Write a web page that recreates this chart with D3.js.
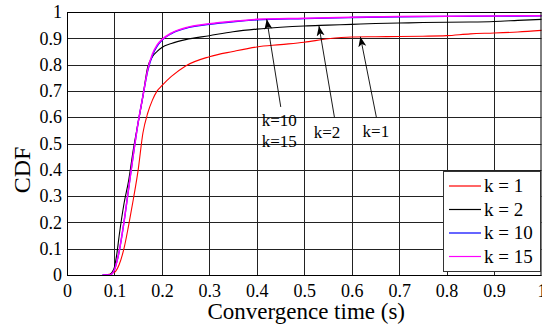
<!DOCTYPE html>
<html><head><meta charset="utf-8">
<script src="https://cdn.jsdelivr.net/npm/d3@7"></script>
<style>
body{margin:0;background:#fff;}
svg{display:block;font-family:"Liberation Serif","Times New Roman",serif;}
</style></head>
<body><svg id="c" width="542" height="329"></svg>
<script>
const xTicks = [0,0.1,0.2,0.3,0.4,0.5,0.6,0.7,0.8,0.9,1];
const yTicks = [0,0.1,0.2,0.3,0.4,0.5,0.6,0.7,0.8,0.9,1];
const seriesNames = ["k = 1","k = 2","k = 10","k = 15"];
const seriesColors = ["#ff0000","#000000","#0000ff","#ff00ff"];
const xK1  = [0.08,0.1,0.11,0.12,0.13,0.14,0.15,0.16,0.17,0.18,0.19,0.2,0.22,0.25,0.3,0.35,0.4,0.45,0.5,0.55,0.6,0.65,0.7,0.75,0.8,0.85,0.9,0.95,1.0];
const yK1  = [0,0.01,0.04,0.1,0.19,0.29,0.4,0.54,0.615,0.665,0.7,0.72,0.755,0.795,0.83,0.85,0.867,0.876,0.885,0.898,0.905,0.906,0.907,0.908,0.91,0.917,0.92,0.924,0.93];
const xK2  = [0.075,0.088,0.095,0.1,0.105,0.11,0.12,0.13,0.14,0.15,0.16,0.17,0.18,0.19,0.2,0.22,0.25,0.3,0.35,0.4,0.45,0.5,0.55,0.6,0.65,0.7,0.75,0.8,0.85,0.9,0.95,1.0];
const yK2  = [0,0,0.01,0.03,0.08,0.15,0.27,0.36,0.48,0.58,0.68,0.79,0.83,0.85,0.865,0.88,0.895,0.91,0.925,0.935,0.942,0.947,0.95,0.953,0.956,0.958,0.96,0.961,0.962,0.964,0.968,0.972];
const xK10 = [0.075,0.09,0.1,0.105,0.11,0.12,0.13,0.14,0.15,0.16,0.17,0.18,0.19,0.2,0.22,0.25,0.3,0.35,0.4,0.5,0.6,0.7,0.8,0.9,1.0];
const yK10 = [0,0,0.02,0.05,0.09,0.2,0.33,0.46,0.58,0.68,0.775,0.835,0.87,0.892,0.918,0.938,0.953,0.963,0.97,0.975,0.979,0.982,0.983,0.984,0.985];
const xK15 = [0.075,0.09,0.1,0.105,0.11,0.12,0.13,0.14,0.15,0.16,0.17,0.18,0.19,0.2,0.22,0.25,0.3,0.35,0.4,0.5,0.6,0.7,0.8,0.9,1.0];
const yK15 = [0,0,0.02,0.05,0.09,0.2,0.33,0.46,0.58,0.68,0.78,0.84,0.875,0.895,0.92,0.94,0.955,0.965,0.972,0.976,0.98,0.983,0.984,0.985,0.986];
const annotLabels = [["k=10","k=15"],["k=2"],["k=1"]];
const annotText = [[0.4105,0.5665],[0.52,0.522],[0.623,0.525]];
const annotFrom = [[0.4505,0.639],[0.5636,0.6],[0.652,0.6]];
const annotTo = [[0.421,0.972],[0.531,0.947],[0.6183,0.906]];

const svg = d3.select("#c");
const x = d3.scaleLinear().domain([0,1]).range([67,541.5]);
const y = d3.scaleLinear().domain([0,1]).range([275,12]);

// grid
const g = svg.append("g");
g.selectAll(".vx").data(xTicks).join("line")
  .attr("x1",d=>Math.round(x(d))+0.5).attr("x2",d=>Math.round(x(d))+0.5)
  .attr("y1",y(0)).attr("y2",y(1)).attr("stroke","#222").attr("stroke-width",1);
g.selectAll(".hy").data(yTicks).join("line")
  .attr("y1",d=>Math.round(y(d))+0.5).attr("y2",d=>Math.round(y(d))+0.5)
  .attr("x1",x(0)).attr("x2",x(1)).attr("stroke","#222").attr("stroke-width",1);

// axes labels via d3 axes
const xAxis = d3.axisBottom(x).tickValues(xTicks).tickFormat(d=>d3.format("")(d)).tickSize(0).tickPadding(9);
const xa = svg.append("g").attr("transform",`translate(0,${y(0)})`).call(xAxis);
xa.select(".domain").remove();
xa.selectAll("text").attr("font-family","Liberation Serif").attr("font-size",18).attr("fill","#000");
const yAxis = d3.axisLeft(y).tickValues(yTicks).tickFormat(d=>d3.format("")(d)).tickSize(0).tickPadding(5);
const ya = svg.append("g").attr("transform",`translate(${x(0)},0)`).call(yAxis);
ya.select(".domain").remove();
ya.selectAll("text").attr("font-family","Liberation Serif").attr("font-size",18).attr("fill","#000");

svg.append("text").attr("x",(x(0)+x(1))/2+2).attr("y",319).attr("text-anchor","middle")
  .attr("font-size",23).text("Convergence time (s)");
svg.append("text").attr("transform",`translate(30,170) rotate(-90)`).attr("text-anchor","middle")
  .attr("font-size",24).text("CDF");

// series
const line = d3.line().x(d=>x(d[0])).y(d=>y(d[1])).curve(d3.curveMonotoneX);
const series = [[xK1,yK1],[xK2,yK2],[xK10,yK10],[xK15,yK15]];
const widths = [1.1,1.1,1.3,1.5];
series.forEach((s,i)=>{
  const pts = s[0].map((v,j)=>[v,s[1][j]]);
  svg.append("path").attr("d",line(pts)).attr("fill","none")
    .attr("stroke",seriesColors[i]).attr("stroke-width",widths[i]);
});

// annotations
const defs = svg.append("defs");
defs.append("marker").attr("id","ah").attr("viewBox","0 0 10 10").attr("refX",10).attr("refY",5)
  .attr("markerWidth",10).attr("markerHeight",10).attr("markerUnits","userSpaceOnUse").attr("orient","auto")
  .append("path").attr("d","M0,1 L10,5 L0,9 L2.5,5 Z").attr("fill","#000");
annotFrom.forEach((f,i)=>{
  svg.append("line").attr("x1",x(f[0])).attr("y1",y(f[1]))
    .attr("x2",x(annotTo[i][0])).attr("y2",y(annotTo[i][1]))
    .attr("stroke","#000").attr("stroke-width",0.9).attr("marker-end","url(#ah)");
  annotLabels[i].forEach((t,j)=>{
    svg.append("text").attr("x",x(annotText[i][0])).attr("y",y(annotText[i][1])+j*21)
      .attr("font-size",17).text(t);
  });
});

// frame
svg.append("rect").attr("x",x(0)+0.5).attr("y",y(1)+0.5).attr("width",x(1)-x(0)-1).attr("height",y(0)-y(1))
  .attr("fill","none").attr("stroke","#000").attr("stroke-width",1);

// legend
const lg = svg.append("g");
lg.append("rect").attr("x",443.5).attr("y",171.5).attr("width",97).attr("height",100)
  .attr("fill","#fff").attr("stroke","#333").attr("stroke-width",1);
seriesNames.forEach((n,i)=>{
  const cy = 186 + i*23.5;
  lg.append("line").attr("x1",449).attr("x2",481).attr("y1",cy).attr("y2",cy)
    .attr("stroke",seriesColors[i]).attr("stroke-width",1.2);
  lg.append("text").attr("x",484).attr("y",cy+6).attr("font-size",19).text(n);
});
</script></body></html>
